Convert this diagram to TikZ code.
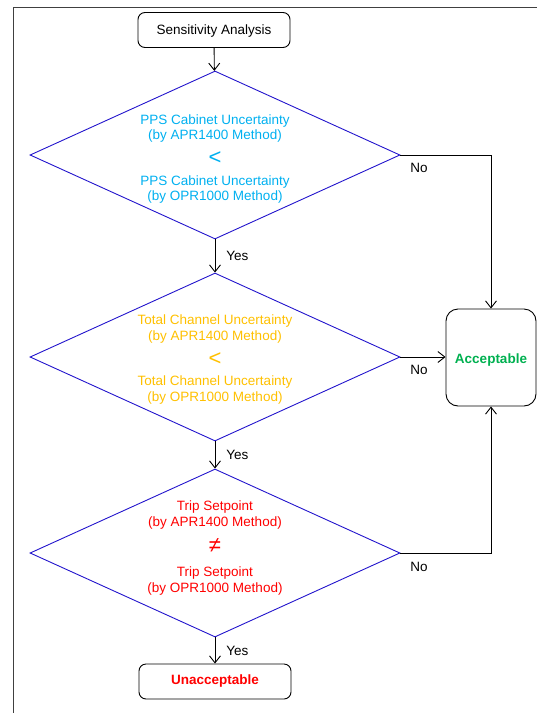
\documentclass[tikz,border=0pt]{standalone}
\usepackage{fontspec}
\setmainfont{Liberation Sans}
\usetikzlibrary{shapes.geometric,arrows.meta}
\definecolor{dblue}{RGB}{34,20,204}
\definecolor{cyantxt}{RGB}{0,176,240}
\definecolor{orangetxt}{RGB}{255,192,0}
\definecolor{redtxt}{RGB}{255,0,0}
\definecolor{greentxt}{RGB}{0,176,80}
\newcommand{\bigsym}[1]{{\fontsize{22}{15}\selectfont #1}}
\begin{document}
\begin{tikzpicture}[x=1pt,y=-1pt,
  base/.style={font=\fontsize{13.5}{15.5}\selectfont},
  termbox/.style={draw,rounded corners=7pt,line width=0.9pt,minimum width=152pt,minimum height=35pt,inner sep=0pt,base},
  decision/.style={diamond,draw=dblue,line width=0.9pt,minimum width=370pt,minimum height=168pt,inner sep=0pt},
  dtext/.style={align=center,inner sep=0pt,base},
  flow/.style={-{Straight Barb[length=7pt,width=11pt]},line width=0.9pt},
  lab/.style={base,inner sep=0pt}]
\useasboundingbox (0,0) rectangle (537,713);
\draw[line width=1pt,draw=black!75] (537,7.5) -- (13.5,7.5) -- (13.5,713);

\node[termbox] (start) at (214,30) {\raisebox{-1.5pt}[\height][\depth]{Sensitivity Analysis}};

\node[decision] (d1) at (215,155) {};
\node[dtext,text=cyantxt] (d1t) at (215,159)
  {PPS Cabinet Uncertainty\\(by APR1400 Method)\\[8pt]\bigsym{<}\\[5pt]PPS Cabinet Uncertainty\\(by OPR1000 Method)};
\node[decision] (d2) at (215,357) {};
\node[dtext,text=orangetxt] (d2t) at (215,359.5)
  {Total Channel Uncertainty\\(by APR1400 Method)\\[8pt]\bigsym{<}\\[5pt]Total Channel Uncertainty\\(by OPR1000 Method)};
\node[decision] (d3) at (215,553) {};
\node[dtext,text=redtxt] (d3t) at (215,548)
  {Trip Setpoint\\(by APR1400 Method)\\[8pt]\bigsym{≠}\\[9pt]Trip Setpoint\\(by OPR1000 Method)};

\node[draw,rounded corners=12pt,line width=0.9pt,minimum width=90pt,minimum height=97pt,inner sep=0pt,font=\fontsize{13.5}{15}\selectfont\bfseries,text=greentxt] (acc) at (491,357.5) {\raisebox{-3pt}[\height][\depth]{Acceptable}};
\node[termbox,font=\fontsize{13.5}{15}\selectfont\bfseries,text=redtxt] (unacc) at (215,681.5) {Unacceptable};

\draw[flow] (start) -- (d1);
\draw[flow] (d1) -- node[lab,right=11pt] (yes1) {Yes} (d2);
\draw[flow] (d2) -- node[lab,right=11pt] (yes2) {Yes} (d3);
\draw[flow] (d3) -- node[lab,right=11pt] (yes3) {Yes} (unacc);

\draw[flow] (d1.east) -| (acc.north);
\draw[flow] (d2.east) -- (d2.east -| acc.west);
\draw[flow] (d3.east) -| (acc.south);

\node[lab] (no1) at (419,168) {No};
\node[lab] (no2) at (419,370) {No};
\node[lab] (no3) at (419,567) {No};
\end{tikzpicture}
\end{document}
